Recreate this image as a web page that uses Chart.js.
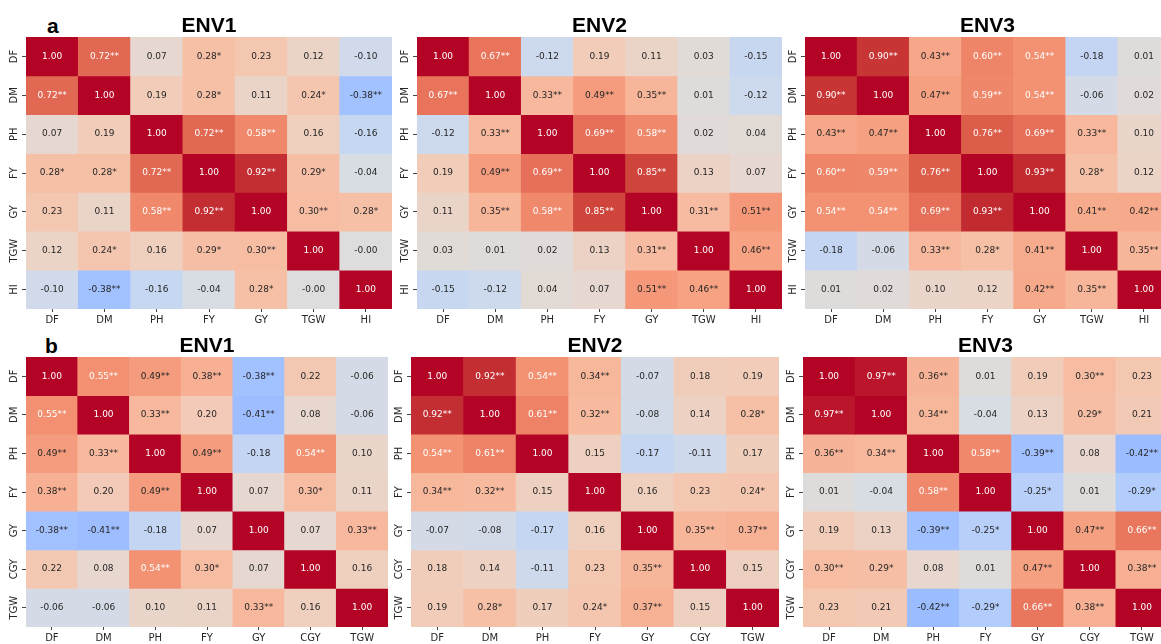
<!DOCTYPE html>
<html lang="en">
<head>
<meta charset="UTF-8">
<title>Trait correlations ENV1-ENV3</title>
<script src="https://cdn.jsdelivr.net/npm/chart.js"></script>
<style>
  body { margin: 0; background: #fff; width: 1161px; height: 644px; overflow: hidden; position: relative; }
  canvas { position: absolute; }
  .tag { position: absolute; font: bold 21px "Liberation Sans", Arial, sans-serif; line-height: 21px; color: #000; }
</style>
</head>
<body>
<div class="tag" style="left:47px; top:15px;">a</div>
<div class="tag" style="left:45px; top:335px;">b</div>

<canvas id="a1" width="392" height="329" style="left:0px; top:0px"></canvas>
<canvas id="a2" width="391" height="329" style="left:391px; top:0px"></canvas>
<canvas id="a3" width="391" height="329" style="left:779px; top:0px"></canvas>
<canvas id="b1" width="388" height="326" style="left:0px; top:321px"></canvas>
<canvas id="b2" width="394" height="326" style="left:385px; top:321px"></canvas>
<canvas id="b3" width="391" height="326" style="left:777px; top:321px"></canvas>

<script>
// trait names
const traitsA = ['DF', 'DM', 'PH', 'FY', 'GY', 'TGW', 'HI'];
const traitsB = ['DF', 'DM', 'PH', 'FY', 'GY', 'CGY', 'TGW'];

// (a) correlations, 3 environments ; stars: 1 = *, 2 = **
const a1Vals = [
  [1.00, 0.72, 0.07, 0.28, 0.23, 0.12, -0.10],
  [0.72, 1.00, 0.19, 0.28, 0.11, 0.24, -0.38],
  [0.07, 0.19, 1.00, 0.72, 0.58, 0.16, -0.16],
  [0.28, 0.28, 0.72, 1.00, 0.92, 0.29, -0.04],
  [0.23, 0.11, 0.58, 0.92, 1.00, 0.30, 0.28],
  [0.12, 0.24, 0.16, 0.29, 0.30, 1.00, -0.001],
  [-0.10, -0.38, -0.16, -0.04, 0.28, -0.001, 1.00]
];
const a1Stars = [
  [0, 2, 0, 1, 0, 0, 0],
  [2, 0, 0, 1, 0, 1, 2],
  [0, 0, 0, 2, 2, 0, 0],
  [1, 1, 2, 0, 2, 1, 0],
  [0, 0, 2, 2, 0, 2, 1],
  [0, 1, 0, 1, 2, 0, 0],
  [0, 2, 0, 0, 1, 0, 0]
];
const a2Vals = [
  [1.00, 0.67, -0.12, 0.19, 0.11, 0.03, -0.15],
  [0.67, 1.00, 0.33, 0.49, 0.35, 0.01, -0.12],
  [-0.12, 0.33, 1.00, 0.69, 0.58, 0.02, 0.04],
  [0.19, 0.49, 0.69, 1.00, 0.85, 0.13, 0.07],
  [0.11, 0.35, 0.58, 0.85, 1.00, 0.31, 0.51],
  [0.03, 0.01, 0.02, 0.13, 0.31, 1.00, 0.46],
  [-0.15, -0.12, 0.04, 0.07, 0.51, 0.46, 1.00]
];
const a2Stars = [
  [0, 2, 0, 0, 0, 0, 0],
  [2, 0, 2, 2, 2, 0, 0],
  [0, 2, 0, 2, 2, 0, 0],
  [0, 2, 2, 0, 2, 0, 0],
  [0, 2, 2, 2, 0, 2, 2],
  [0, 0, 0, 0, 2, 0, 2],
  [0, 0, 0, 0, 2, 2, 0]
];
const a3Vals = [
  [1.00, 0.90, 0.43, 0.60, 0.54, -0.18, 0.01],
  [0.90, 1.00, 0.47, 0.59, 0.54, -0.06, 0.02],
  [0.43, 0.47, 1.00, 0.76, 0.69, 0.33, 0.10],
  [0.60, 0.59, 0.76, 1.00, 0.93, 0.28, 0.12],
  [0.54, 0.54, 0.69, 0.93, 1.00, 0.41, 0.42],
  [-0.18, -0.06, 0.33, 0.28, 0.41, 1.00, 0.35],
  [0.01, 0.02, 0.10, 0.12, 0.42, 0.35, 1.00]
];
const a3Stars = [
  [0, 2, 2, 2, 2, 0, 0],
  [2, 0, 2, 2, 2, 0, 0],
  [2, 2, 0, 2, 2, 2, 0],
  [2, 2, 2, 0, 2, 1, 0],
  [2, 2, 2, 2, 0, 2, 2],
  [0, 0, 2, 1, 2, 0, 2],
  [0, 0, 0, 0, 2, 2, 0]
];

// (b) correlations, 3 environments
const b1Vals = [
  [1.00, 0.55, 0.49, 0.38, -0.38, 0.22, -0.06],
  [0.55, 1.00, 0.33, 0.20, -0.41, 0.08, -0.06],
  [0.49, 0.33, 1.00, 0.49, -0.18, 0.54, 0.10],
  [0.38, 0.20, 0.49, 1.00, 0.07, 0.30, 0.11],
  [-0.38, -0.41, -0.18, 0.07, 1.00, 0.07, 0.33],
  [0.22, 0.08, 0.54, 0.30, 0.07, 1.00, 0.16],
  [-0.06, -0.06, 0.10, 0.11, 0.33, 0.16, 1.00]
];
const b1Stars = [
  [0, 2, 2, 2, 2, 0, 0],
  [2, 0, 2, 0, 2, 0, 0],
  [2, 2, 0, 2, 0, 2, 0],
  [2, 0, 2, 0, 0, 1, 0],
  [2, 2, 0, 0, 0, 0, 2],
  [0, 0, 2, 1, 0, 0, 0],
  [0, 0, 0, 0, 2, 0, 0]
];
const b2Vals = [
  [1.00, 0.92, 0.54, 0.34, -0.07, 0.18, 0.19],
  [0.92, 1.00, 0.61, 0.32, -0.08, 0.14, 0.28],
  [0.54, 0.61, 1.00, 0.15, -0.17, -0.11, 0.17],
  [0.34, 0.32, 0.15, 1.00, 0.16, 0.23, 0.24],
  [-0.07, -0.08, -0.17, 0.16, 1.00, 0.35, 0.37],
  [0.18, 0.14, -0.11, 0.23, 0.35, 1.00, 0.15],
  [0.19, 0.28, 0.17, 0.24, 0.37, 0.15, 1.00]
];
const b2Stars = [
  [0, 2, 2, 2, 0, 0, 0],
  [2, 0, 2, 2, 0, 0, 1],
  [2, 2, 0, 0, 0, 0, 0],
  [2, 2, 0, 0, 0, 0, 1],
  [0, 0, 0, 0, 0, 2, 2],
  [0, 0, 0, 0, 2, 0, 0],
  [0, 1, 0, 1, 2, 0, 0]
];
const b3Vals = [
  [1.00, 0.97, 0.36, 0.01, 0.19, 0.30, 0.23],
  [0.97, 1.00, 0.34, -0.04, 0.13, 0.29, 0.21],
  [0.36, 0.34, 1.00, 0.58, -0.39, 0.08, -0.42],
  [0.01, -0.04, 0.58, 1.00, -0.25, 0.01, -0.29],
  [0.19, 0.13, -0.39, -0.25, 1.00, 0.47, 0.66],
  [0.30, 0.29, 0.08, 0.01, 0.47, 1.00, 0.38],
  [0.23, 0.21, -0.42, -0.29, 0.66, 0.38, 1.00]
];
const b3Stars = [
  [0, 2, 2, 0, 0, 2, 0],
  [2, 0, 2, 0, 0, 1, 0],
  [2, 2, 0, 2, 2, 0, 2],
  [0, 0, 2, 0, 1, 0, 1],
  [0, 0, 2, 1, 0, 2, 2],
  [2, 1, 0, 0, 2, 0, 2],
  [0, 0, 2, 1, 2, 2, 0]
];

// matplotlib "coolwarm", vmin -1 .. vmax 1
const coolwarm = [
  [59,76,192],[68,90,204],[77,104,215],[87,117,225],[98,130,234],[108,142,241],
  [119,154,247],[130,165,251],[141,176,254],[152,185,255],[163,194,255],[174,201,253],
  [184,208,249],[194,213,244],[204,217,238],[213,219,230],[221,221,221],[229,216,209],
  [236,211,197],[241,204,185],[245,196,173],[247,187,160],[247,177,148],[247,166,135],
  [244,154,123],[241,141,111],[236,127,99],[229,112,88],[222,96,77],[213,80,66],
  [203,62,56],[192,40,47],[180,4,38]
];

function cmap(v) {
  const t = Math.min(1, Math.max(0, (v + 1) / 2)) * (coolwarm.length - 1);
  const i = Math.min(Math.floor(t), coolwarm.length - 2);
  const f = t - i;
  return coolwarm[i].map((x, k) => Math.round(x + (coolwarm[i + 1][k] - x) * f));
}

// same rule seaborn uses to pick light/dark annotation text
function luminance(rgb) {
  const c = rgb.map(x => {
    x /= 255;
    return x <= 0.03928 ? x / 12.92 : Math.pow((x + 0.055) / 1.055, 2.4);
  });
  return 0.2126 * c[0] + 0.7152 * c[1] + 0.0722 * c[2];
}

const annotate = {
  id: 'annotate',
  afterDatasetsDraw(chart) {
    const ctx = chart.ctx;
    ctx.save();
    ctx.font = '9px "DejaVu Sans"';
    ctx.textAlign = 'center';
    ctx.textBaseline = 'middle';
    chart.data.datasets.forEach((ds, r) => {
      chart.getDatasetMeta(r).data.forEach((bar, c) => {
        ctx.fillStyle = ds.textColors[c];
        ctx.fillText(ds.annot[c], bar.x, (bar.y + bar.base) / 2);
      });
    });
    ctx.restore();
  }
};

const tickFont = { family: '"DejaVu Sans", sans-serif', size: 10 };

function heatmap(id, title, traits, vals, stars, titleTop) {
  const datasets = vals.map((row, r) => {
    const rgb = row.map(cmap);
    return {
      data: row.map(() => [r, r + 1]),
      backgroundColor: rgb.map(c => 'rgb(' + c.join(',') + ')'),
      annot: row.map((v, c) => v.toFixed(2) + '*'.repeat(stars[r][c])),
      textColors: rgb.map(c => luminance(c) < 0.408 ? '#ffffff' : '#262626'),
      grouped: false,
      barPercentage: 1,
      categoryPercentage: 1,
      borderWidth: 0,
      borderSkipped: false
    };
  });

  new Chart(document.getElementById(id), {
    type: 'bar',
    data: { labels: traits, datasets: datasets },
    options: {
      responsive: false,
      animation: false,
      events: [],
      layout: { padding: 0 },
      plugins: {
        legend: { display: false },
        tooltip: { enabled: false },
        title: {
          display: true,
          text: title,
          fullSize: false,
          color: '#000',
          font: { family: '"Liberation Sans", Arial, sans-serif', size: 21, weight: 'bold', lineHeight: 1 },
          padding: { top: titleTop, bottom: 0 }
        }
      },
      scales: {
        x: {
          type: 'category',
          offset: true,
          grid: { display: true, drawOnChartArea: false, offset: false, tickLength: 3, color: '#444', lineWidth: 1 },
          border: { display: false },
          ticks: { color: '#262626', font: tickFont, padding: 2, maxRotation: 0, autoSkip: false },
          afterFit: s => { s.height = 20; }
        },
        y: {
          type: 'linear',
          min: 0,
          max: 7,
          reverse: true,
          afterBuildTicks: s => { s.ticks = traits.map((_, i) => ({ value: i + 0.5 })); },
          grid: { display: true, drawOnChartArea: false, tickLength: 4, color: '#444', lineWidth: 1 },
          border: { display: false },
          ticks: {
            color: '#262626', font: tickFont, autoSkip: false,
            minRotation: 90, maxRotation: 90, crossAlign: 'center', padding: -4,
            callback: (v, i) => traits[i]
          },
          afterFit: s => { s.width = 26; }
        }
      }
    },
    plugins: [annotate]
  });
}

heatmap('a1', 'ENV1', traitsA, a1Vals, a1Stars, 16);
heatmap('a2', 'ENV2', traitsA, a2Vals, a2Stars, 16);
heatmap('a3', 'ENV3', traitsA, a3Vals, a3Stars, 16);
heatmap('b1', 'ENV1', traitsB, b1Vals, b1Stars, 15);
heatmap('b2', 'ENV2', traitsB, b2Vals, b2Stars, 15);
heatmap('b3', 'ENV3', traitsB, b3Vals, b3Stars, 15);
</script>
</body>
</html>
